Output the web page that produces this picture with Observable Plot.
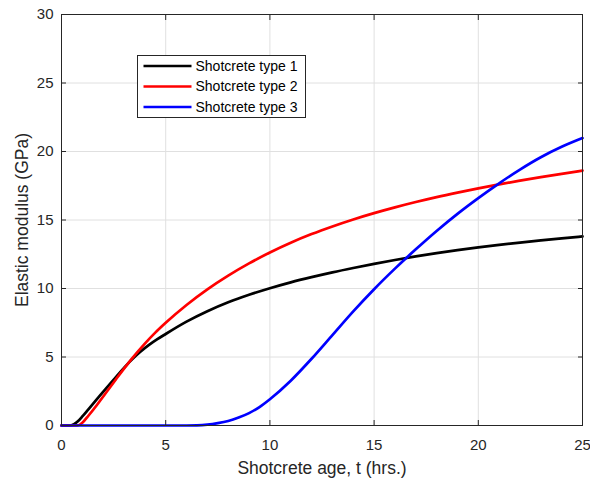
<!DOCTYPE html>
<html>
<head>
<meta charset="utf-8">
<script src="https://cdn.jsdelivr.net/npm/d3@7"></script>
<script src="https://cdn.jsdelivr.net/npm/@observablehq/plot@0.6"></script>
<style>
  html, body { margin: 0; padding: 0; background: #fff; }
  #chart { position: relative; width: 590px; height: 478px; }
</style>
</head>
<body>
<div id="chart"></div>
<script>
const seriesNames = ["Shotcrete type 1", "Shotcrete type 2", "Shotcrete type 3"];
const seriesColors = ["#000000", "#ff0000", "#0000ff"];

const ageType1 = [0, 0.35, 0.6, 0.8, 1.0, 1.3, 1.7, 2.1, 2.6, 3.0, 3.4, 3.8, 4.2, 4.6, 5, 6, 7, 8, 9, 10, 11, 12, 13, 14, 15, 16, 17, 18, 19, 20, 21, 22, 23, 24, 25];
const modType1 = [0, 0, 0.1, 0.33, 0.66, 1.2, 1.92, 2.64, 3.52, 4.2, 4.85, 5.4, 5.88, 6.3, 6.68, 7.58, 8.34, 8.99, 9.54, 10.02, 10.45, 10.83, 11.18, 11.5, 11.8, 12.08, 12.34, 12.58, 12.8, 13.0, 13.18, 13.35, 13.51, 13.66, 13.8];

const ageType2 = [0, 0.77, 1.0, 1.3, 1.7, 2.1, 2.6, 3.0, 3.4, 4.0, 4.5, 5, 6, 7, 8, 9, 10, 11, 12, 13, 14, 15, 16, 17, 18, 19, 20, 21, 22, 23, 24, 25];
const modType2 = [0, 0, 0.2, 0.73, 1.5, 2.32, 3.34, 4.15, 4.92, 5.98, 6.78, 7.5, 8.8, 9.94, 10.94, 11.83, 12.63, 13.34, 13.97, 14.53, 15.04, 15.5, 15.92, 16.31, 16.67, 17.0, 17.31, 17.6, 17.87, 18.13, 18.37, 18.6];

const ageType3 = [0, 6.0, 6.5, 7.0, 7.5, 8.0, 8.5, 9.0, 9.5, 10, 11, 12, 13, 14, 15, 16, 17, 18, 19, 20, 21, 22, 23, 24, 25];
const modType3 = [0, 0, 0.01, 0.06, 0.17, 0.33, 0.58, 0.9, 1.35, 1.92, 3.27, 4.87, 6.6, 8.33, 9.95, 11.45, 12.86, 14.2, 15.45, 16.6, 17.68, 18.68, 19.58, 20.34, 20.98];

const xTicks = [0, 5, 10, 15, 20, 25];
const yTicks = [0, 5, 10, 15, 20, 25, 30];
const xLabel = "Shotcrete age, t (hrs.)";
const yLabel = "Elastic modulus (GPa)";

const ages = [ageType1, ageType2, ageType3];
const mods = [modType1, modType2, modType3];
const data = [];
seriesNames.forEach((name, i) => {
  ages[i].forEach((t, j) => data.push({series: name, t, E: mods[i][j]}));
});

const axisColor = "#262626";
const font = "'Liberation Sans', Arial, Helvetica, sans-serif";

const chart = Plot.plot({
  width: 590,
  height: 478,
  marginLeft: 61,
  marginRight: 8,
  marginTop: 14,
  marginBottom: 53,
  style: {fontFamily: font, fontSize: "15px", color: axisColor, background: "#fff", overflow: "visible"},
  x: {domain: [0, 25], ticks: xTicks},
  y: {domain: [0, 30], ticks: yTicks},
  color: {domain: seriesNames, range: seriesColors},
  marks: [
    Plot.gridX(xTicks, {stroke: "#e0e0e0", strokeOpacity: 1, strokeWidth: 1}),
    Plot.gridY(yTicks, {stroke: "#e0e0e0", strokeOpacity: 1, strokeWidth: 1}),
    Plot.line(data, {x: "t", y: "E", z: "series", stroke: "series", strokeWidth: 2.7, curve: "monotone-x"}),
    Plot.frame({stroke: axisColor, strokeWidth: 1}),
    Plot.axisX(xTicks, {anchor: "bottom", tickSize: -5, tickPadding: 19, stroke: axisColor, fill: axisColor, fontSize: 15, label: xLabel, labelAnchor: "center", labelOffset: 48, labelArrow: "none"}),
    Plot.axisX(xTicks, {anchor: "top", tickSize: -5, tickFormat: () => "", stroke: axisColor, label: null}),
    Plot.axisY(yTicks, {anchor: "left", tickSize: -5, tickPadding: 13, stroke: axisColor, fill: axisColor, fontSize: 15, label: yLabel, labelAnchor: "center", labelOffset: 46, labelArrow: "none"}),
    Plot.axisY(yTicks, {anchor: "right", tickSize: -5, tickFormat: () => "", stroke: axisColor, label: null})
  ]
});

document.getElementById("chart").appendChild(chart);

d3.select(chart).selectAll("g[aria-label='x-axis label'] text, g[aria-label='y-axis label'] text")
  .style("font-size", "17.5px").attr("fill", axisColor);

// Legend (MATLAB style box)
const svg = d3.select(chart);
const lg = svg.append("g").attr("transform", "translate(137.5,55.5)").attr("text-anchor", "start");
lg.append("rect").attr("width", 168).attr("height", 62)
  .attr("fill", "#fff").attr("stroke", axisColor).attr("stroke-width", 1);
seriesNames.forEach((name, i) => {
  const cy = 10.5 + i * 20.5;
  lg.append("line").attr("x1", 6).attr("x2", 54).attr("y1", cy).attr("y2", cy)
    .attr("stroke", seriesColors[i]).attr("stroke-width", 2.7);
  lg.append("text").attr("x", 58).attr("y", cy).attr("dy", "0.35em")
    .attr("text-anchor", "start")
    .attr("fill", "#000").style("font-family", font).style("font-size", "14px").text(name);
});
</script>
</body>
</html>
